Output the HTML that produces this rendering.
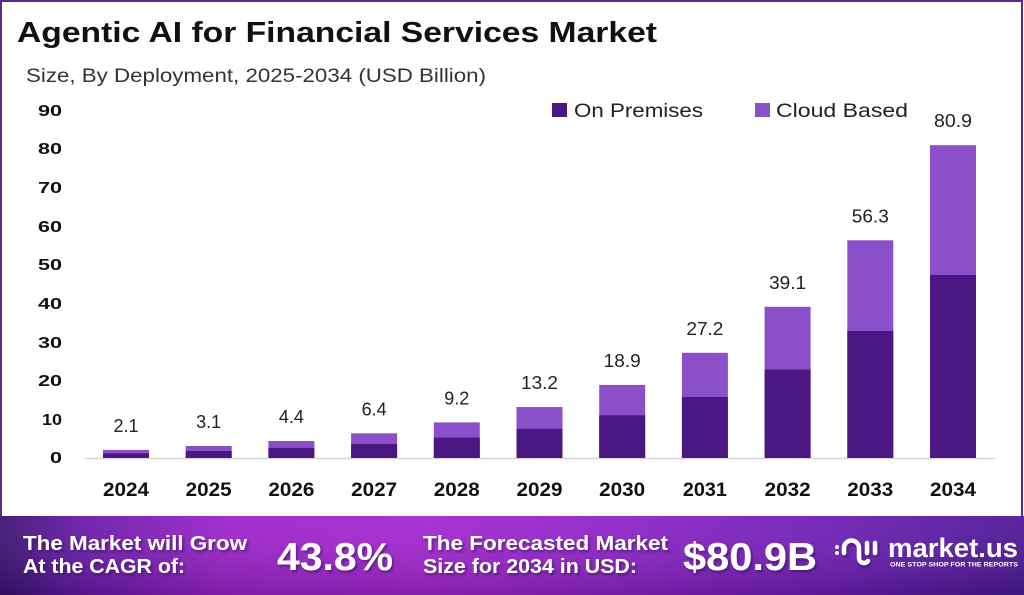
<!DOCTYPE html>
<html>
<head>
<meta charset="utf-8">
<style>
  html,body{margin:0;padding:0;background:#fff;}
  svg{display:block;}
  text{font-family:"Liberation Sans", sans-serif;}
</style>
</head>
<body>
<svg width="1024" height="595" viewBox="0 0 1024 595" xmlns="http://www.w3.org/2000/svg">
  <defs>
    <linearGradient id="ban" x1="0" y1="0" x2="1" y2="0">
      <stop offset="0" stop-color="#3a1170"/>
      <stop offset="0.07" stop-color="#6418a6"/>
      <stop offset="0.22" stop-color="#9c22cc"/>
      <stop offset="0.42" stop-color="#a425d2"/>
      <stop offset="0.62" stop-color="#8c22c8"/>
      <stop offset="0.82" stop-color="#6c1db4"/>
      <stop offset="1" stop-color="#4c1796"/>
    </linearGradient>
    <linearGradient id="banv" x1="0" y1="0" x2="0" y2="1">
      <stop offset="0" stop-color="#ffffff" stop-opacity="0.06"/>
      <stop offset="1" stop-color="#000000" stop-opacity="0.18"/>
    </linearGradient>
    <filter id="sh" x="-10%" y="-10%" width="130%" height="140%">
      <feDropShadow dx="1.5" dy="2" stdDeviation="1.2" flood-color="#2a0a50" flood-opacity="0.6"/>
    </filter>
  </defs>

  <rect x="0" y="0" width="1024" height="595" fill="#ffffff"/>
  <rect x="1" y="1" width="1021" height="530" fill="none" stroke="#5a2a8a" stroke-width="2"/>

  <!-- Title -->
  <text x="17" y="42" font-size="29" font-weight="bold" fill="#111" textLength="640" lengthAdjust="spacingAndGlyphs">Agentic AI for Financial Services Market</text>
  <text x="26" y="82" font-size="19.5" fill="#333" textLength="460" lengthAdjust="spacingAndGlyphs">Size, By Deployment, 2025-2034 (USD Billion)</text>

  <!-- Legend -->
  <rect x="552" y="103" width="15" height="14" fill="#4b1782"/>
  <text x="574" y="117" font-size="19" fill="#222" textLength="129" lengthAdjust="spacingAndGlyphs">On Premises</text>
  <rect x="755" y="103" width="15" height="14" fill="#8b4fc9"/>
  <text x="776" y="117" font-size="19" fill="#222" textLength="132" lengthAdjust="spacingAndGlyphs">Cloud Based</text>

  <!-- Y axis labels -->
  <g font-size="16" font-weight="bold" fill="#111" text-anchor="end">
    <text x="62" y="116" textLength="24" lengthAdjust="spacingAndGlyphs">90</text>
    <text x="62" y="154" textLength="24" lengthAdjust="spacingAndGlyphs">80</text>
    <text x="62" y="193" textLength="24" lengthAdjust="spacingAndGlyphs">70</text>
    <text x="62" y="232" textLength="24" lengthAdjust="spacingAndGlyphs">60</text>
    <text x="62" y="270" textLength="24" lengthAdjust="spacingAndGlyphs">50</text>
    <text x="62" y="309" textLength="24" lengthAdjust="spacingAndGlyphs">40</text>
    <text x="62" y="348" textLength="24" lengthAdjust="spacingAndGlyphs">30</text>
    <text x="62" y="386" textLength="24" lengthAdjust="spacingAndGlyphs">20</text>
    <text x="62" y="425" textLength="20" lengthAdjust="spacingAndGlyphs">10</text>
    <text x="62" y="463" textLength="12" lengthAdjust="spacingAndGlyphs">0</text>
  </g>

  <!-- Axis line -->
  <line x1="85" y1="458.5" x2="995" y2="458.5" stroke="#d6d6d6" stroke-width="1.5"/>

  <!-- Bars: dark = on premises (58%), light = cloud -->
  <g>
    <!-- 2024 2.1 -->
    <rect x="103" y="449.9" width="46" height="8.1" fill="#8b4fc9"/>
    <rect x="103" y="453.3" width="46" height="4.7" fill="#4b1782"/>
    <!-- 2025 3.1 -->
    <rect x="185.7" y="446.0" width="46" height="12.0" fill="#8b4fc9"/>
    <rect x="185.7" y="451.0" width="46" height="7.0" fill="#4b1782"/>
    <!-- 2026 4.4 -->
    <rect x="268.4" y="441.0" width="46" height="17.0" fill="#8b4fc9"/>
    <rect x="268.4" y="447.9" width="46" height="10.1" fill="#4b1782"/>
    <!-- 2027 6.4 -->
    <rect x="351.1" y="433.3" width="46" height="24.7" fill="#8b4fc9"/>
    <rect x="351.1" y="444.0" width="46" height="14.0" fill="#4b1782"/>
    <!-- 2028 9.2 -->
    <rect x="433.8" y="422.4" width="46" height="35.6" fill="#8b4fc9"/>
    <rect x="433.8" y="437.6" width="46" height="20.4" fill="#4b1782"/>
    <!-- 2029 13.2 -->
    <rect x="516.5" y="407.0" width="46" height="51.0" fill="#8b4fc9"/>
    <rect x="516.5" y="428.8" width="46" height="29.2" fill="#4b1782"/>
    <!-- 2030 18.9 -->
    <rect x="599.2" y="384.9" width="46" height="73.1" fill="#8b4fc9"/>
    <rect x="599.2" y="415.3" width="46" height="42.7" fill="#4b1782"/>
    <!-- 2031 27.2 -->
    <rect x="681.9" y="352.8" width="46" height="105.2" fill="#8b4fc9"/>
    <rect x="681.9" y="397.0" width="46" height="61.0" fill="#4b1782"/>
    <!-- 2032 39.1 -->
    <rect x="764.6" y="306.8" width="46" height="151.2" fill="#8b4fc9"/>
    <rect x="764.6" y="369.5" width="46" height="88.5" fill="#4b1782"/>
    <!-- 2033 56.3 -->
    <rect x="847.3" y="240.3" width="46" height="217.7" fill="#8b4fc9"/>
    <rect x="847.3" y="331.0" width="46" height="127.0" fill="#4b1782"/>
    <!-- 2034 80.9 -->
    <rect x="930" y="145.2" width="46" height="312.8" fill="#8b4fc9"/>
    <rect x="930" y="275.0" width="46" height="183.0" fill="#4b1782"/>
  </g>

  <!-- Value labels -->
  <g font-size="18" fill="#222" text-anchor="middle">
    <text x="126" y="432">2.1</text>
    <text x="208.7" y="428">3.1</text>
    <text x="291.4" y="423">4.4</text>
    <text x="374.1" y="415.3">6.4</text>
    <text x="456.8" y="404.4">9.2</text>
    <text x="539.5" y="389" textLength="37" lengthAdjust="spacingAndGlyphs">13.2</text>
    <text x="622.2" y="366.9" textLength="37" lengthAdjust="spacingAndGlyphs">18.9</text>
    <text x="704.9" y="334.8" textLength="37" lengthAdjust="spacingAndGlyphs">27.2</text>
    <text x="787.6" y="288.8" textLength="37" lengthAdjust="spacingAndGlyphs">39.1</text>
    <text x="870.3" y="222.3" textLength="37" lengthAdjust="spacingAndGlyphs">56.3</text>
    <text x="953" y="127.2" textLength="38" lengthAdjust="spacingAndGlyphs">80.9</text>
  </g>

  <!-- Year labels -->
  <g font-size="19" font-weight="bold" fill="#111" text-anchor="middle">
    <text x="126" y="496" textLength="46" lengthAdjust="spacingAndGlyphs">2024</text>
    <text x="208.7" y="496" textLength="46" lengthAdjust="spacingAndGlyphs">2025</text>
    <text x="291.4" y="496" textLength="46" lengthAdjust="spacingAndGlyphs">2026</text>
    <text x="374.1" y="496" textLength="46" lengthAdjust="spacingAndGlyphs">2027</text>
    <text x="456.8" y="496" textLength="46" lengthAdjust="spacingAndGlyphs">2028</text>
    <text x="539.5" y="496" textLength="46" lengthAdjust="spacingAndGlyphs">2029</text>
    <text x="622.2" y="496" textLength="46" lengthAdjust="spacingAndGlyphs">2030</text>
    <text x="704.9" y="496" textLength="44" lengthAdjust="spacingAndGlyphs">2031</text>
    <text x="787.6" y="496" textLength="46" lengthAdjust="spacingAndGlyphs">2032</text>
    <text x="870.3" y="496" textLength="46" lengthAdjust="spacingAndGlyphs">2033</text>
    <text x="953" y="496" textLength="46" lengthAdjust="spacingAndGlyphs">2034</text>
  </g>

  <!-- Banner -->
  <rect x="0" y="516" width="1024" height="79" fill="url(#ban)"/>
  <rect x="0" y="516" width="1024" height="79" fill="url(#banv)"/>

  <g fill="#ffffff" font-weight="bold" filter="url(#sh)">
    <text x="23" y="550" font-size="20" textLength="224" lengthAdjust="spacingAndGlyphs">The Market will Grow</text>
    <text x="23" y="573" font-size="20" textLength="162" lengthAdjust="spacingAndGlyphs">At the CAGR of:</text>
    <text x="277" y="570" font-size="39" textLength="116" lengthAdjust="spacingAndGlyphs">43.8%</text>
    <text x="423" y="550" font-size="20" textLength="245" lengthAdjust="spacingAndGlyphs">The Forecasted Market</text>
    <text x="423" y="573" font-size="20" textLength="214" lengthAdjust="spacingAndGlyphs">Size for 2034 in USD:</text>
    <text x="683" y="570" font-size="39" textLength="134" lengthAdjust="spacingAndGlyphs">$80.9B</text>
  </g>

  <!-- Logo -->
  <g stroke="#ffffff" stroke-width="4.5" fill="none" stroke-linecap="round" filter="url(#sh)">
    <path d="M844 553 V548 a7.5 7.5 0 0 1 15 0 V558 a5 5 0 0 0 9 3"/>
    <line x1="867" y1="543" x2="867" y2="553"/>
    <line x1="875" y1="543" x2="875" y2="553"/>
  </g>
  <circle cx="837" cy="547" r="2" fill="#fff"/>
  <circle cx="837" cy="553" r="2" fill="#fff"/>
  <text x="888" y="557" font-size="27" font-weight="bold" fill="#fff" textLength="130" lengthAdjust="spacingAndGlyphs">market.us</text>
  <text x="890" y="566.5" font-size="6" font-weight="bold" fill="#fff" textLength="128" lengthAdjust="spacingAndGlyphs">ONE STOP SHOP FOR THE REPORTS</text>
</svg>
</body>
</html>
